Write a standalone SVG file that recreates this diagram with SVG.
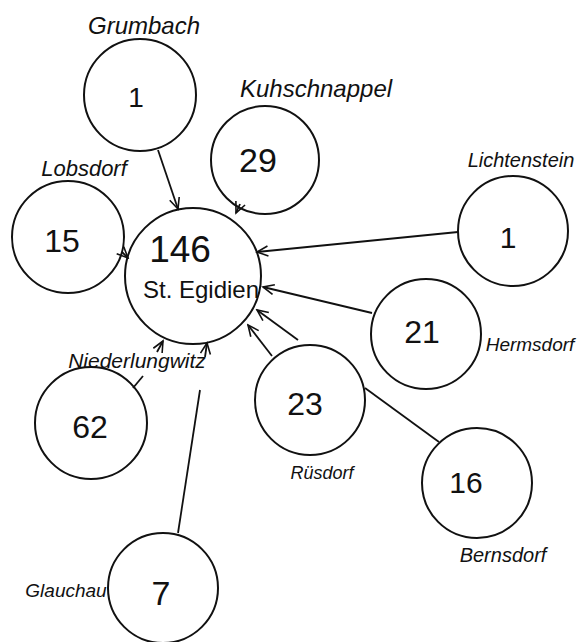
<svg xmlns="http://www.w3.org/2000/svg" width="585" height="642" viewBox="0 0 585 642">
<style>
.node circle{fill:none;stroke:#111;stroke-width:2}
.num{font-family:"Liberation Sans",Arial,sans-serif;fill:#111;text-anchor:middle}
.lbl{font-family:"Liberation Sans",Arial,sans-serif;font-style:italic;fill:#111;text-anchor:middle}
.conn path{fill:none;stroke:#111;stroke-width:1.8}
</style>
<defs>
<marker id="arr" markerUnits="userSpaceOnUse" markerWidth="14" markerHeight="14" refX="12" refY="6" orient="auto">
<path d="M1,1 L12,6 L1,11" fill="none" stroke="#111" stroke-width="1.6"/>
</marker>
</defs>
<rect width="585" height="642" fill="#fff"/>
<g id="connectors" class="conn">
<path d="M158,150 L178,209" marker-end="url(#arr)"/>
<path d="M240,204 L236,213" marker-end="url(#arr)"/>
<path d="M122,252 L128,258" marker-end="url(#arr)"/>
<path d="M458,232 L257,252" marker-end="url(#arr)"/>
<path d="M372,313 L263,287" marker-end="url(#arr)"/>
<path d="M298,340 L257,310" marker-end="url(#arr)"/>
<path d="M272,356 L248,325" marker-end="url(#arr)"/>
<path d="M365,388 L439,442"/>
<path d="M133,388 L143,376"/>
<path d="M157,352 L163,341" marker-end="url(#arr)"/>
<path d="M178,533 L200,390"/>
<path d="M205,357 L207,343" marker-end="url(#arr)"/>
</g>
<g id="st-egidien" class="node">
<circle cx="193" cy="276" r="68"/>
<text class="num" x="180" y="262" font-size="37">146</text>
<text class="num" x="201" y="298" font-size="24">St. Egidien</text>
</g>
<g id="grumbach" class="node">
<circle cx="140" cy="95" r="56"/>
<text class="num" x="136" y="107" font-size="28">1</text>
<text class="lbl" x="144" y="34" font-size="24">Grumbach</text>
</g>
<g id="kuhschnappel" class="node">
<circle cx="265" cy="160" r="54"/>
<text class="num" x="258" y="172" font-size="34">29</text>
<text class="lbl" x="316" y="97" font-size="24">Kuhschnappel</text>
</g>
<g id="lobsdorf" class="node">
<circle cx="68" cy="237" r="56"/>
<text class="num" x="62" y="252" font-size="32">15</text>
<text class="lbl" x="84" y="176" font-size="22">Lobsdorf</text>
</g>
<g id="lichtenstein" class="node">
<circle cx="513" cy="231" r="55"/>
<text class="num" x="508" y="248" font-size="30">1</text>
<text class="lbl" x="521" y="167" font-size="20" font-style="normal">Lichtenstein</text>
</g>
<g id="hermsdorf" class="node">
<circle cx="426" cy="334" r="55"/>
<text class="num" x="422" y="343" font-size="32">21</text>
<text class="lbl" x="530" y="351" font-size="19">Hermsdorf</text>
</g>
<g id="ruesdorf" class="node">
<circle cx="310" cy="400" r="55"/>
<text class="num" x="305" y="415" font-size="32">23</text>
<text class="lbl" x="322" y="479" font-size="18">Rüsdorf</text>
</g>
<g id="bernsdorf" class="node">
<circle cx="477" cy="483" r="55"/>
<text class="num" x="466" y="493" font-size="30">16</text>
<text class="lbl" x="503" y="562" font-size="20">Bernsdorf</text>
</g>
<g id="niederlungwitz" class="node">
<circle cx="91" cy="423" r="56"/>
<text class="num" x="90" y="438" font-size="32">62</text>
<text class="lbl" x="137" y="368" font-size="21">Niederlungwitz</text>
</g>
<g id="glauchau" class="node">
<circle cx="163" cy="588" r="55"/>
<text class="num" x="161" y="605" font-size="34">7</text>
<text class="lbl" x="66" y="597" font-size="19">Glauchau</text>
</g>
</svg>
